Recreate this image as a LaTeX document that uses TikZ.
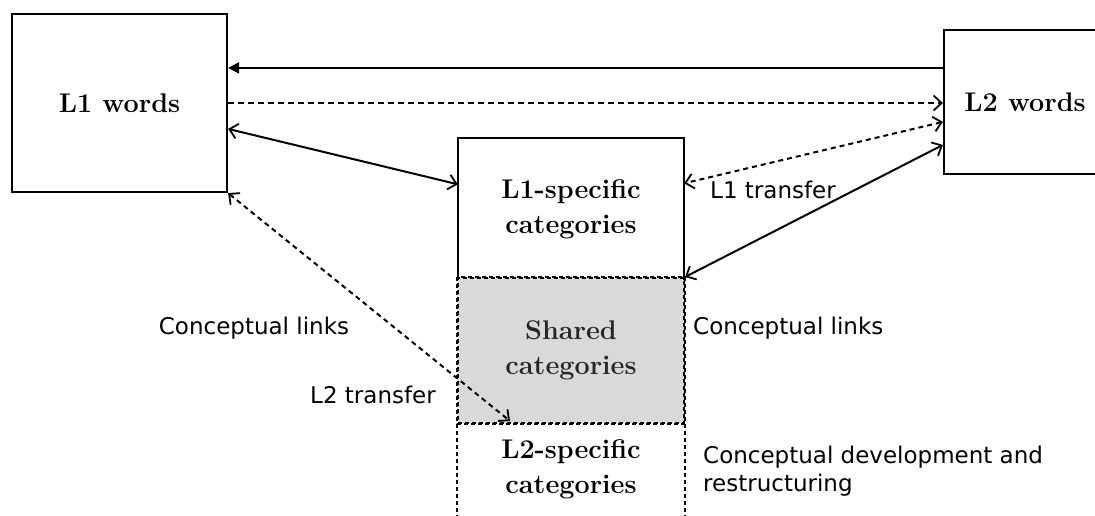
\documentclass[tikz,border=0pt]{standalone}
\usepackage{fontspec}
\newfontfamily\labfont{DejaVu Sans}
\usetikzlibrary{arrows.meta,calc}
\begin{document}
\begin{tikzpicture}[x=1pt,y=-1pt,
  >={Straight Barb[length=8pt,width=15pt,line width=1.8pt]},
  serif/.style={inner sep=0pt, align=center, font=\fontsize{27}{35}\selectfont\bfseries},
  wordbox/.style={serif, draw, line width=2.2pt},
  lab/.style={inner sep=0pt, font=\labfont\fontsize{23}{28}\selectfont},
  link/.style={line width=2pt},
  dashlink/.style={link, dash pattern=on 6pt off 4pt},
  dotlink/.style={link, dash pattern=on 5pt off 4pt},
  boxdash/.style={line width=2pt, dash pattern=on 4pt off 3pt}]
\useasboundingbox (0,0) rectangle (1095,515);
\clip (0,0) rectangle (1095,515);
\fill[white] (0,0) rectangle (1095,515);

% boxes
\node[wordbox, minimum width=215pt, minimum height=178pt] (l1w) at (119.5,103) {L1 words};
\node[wordbox, minimum width=162pt, minimum height=144pt] (l2w) at (1025,102) {L2 words};
\node[serif, minimum width=226pt, minimum height=141pt] (l1s) at (571,209) {L1-specific\\categories};
\node[serif, boxdash, draw, fill=gray!30, text=black!85, minimum width=226pt, minimum height=145pt] (sh) at (571,350.5) {Shared\\categories};
\node[serif, minimum width=226pt, minimum height=92pt] (l2s) at (571,469) {L2-specific\\categories};

\draw[line width=2.2pt] (l1s.south west) -- (l1s.north west) -- (l1s.north east) -- (l1s.south east);
\draw[boxdash] (sh.north west) rectangle (sh.south east);
\coordinate (l2sbl) at ($(sh.south west)+(0,95)$);
\coordinate (l2sbr) at ($(sh.south east)+(0,95)$);
\draw[boxdash] (sh.south west) -- (l2sbl);
\draw[boxdash] (sh.south east) -- (l2sbr);

% connectors
\draw[link, -{Triangle[length=11pt,width=11pt]}] ($(l2w.north west)+(0,39)$) -- ($(l1w.north east)+(0,55)$);
\draw[dashlink, ->] (l1w.east) -- (l1w.east -| l2w.west);
\draw[link, <->] ($(l1w.north east)+(0,116)$) -- ($(l1s.north west)+(0,46)$);
\draw[dotlink, <->] ($(l2w.north west)+(0,93)$) -- ($(l1s.north east)+(0,45)$);
\draw[link, <->] ($(l2w.north west)+(0,116)$) -- (sh.north east);
\coordinate (l2t) at ($(sh.south west)+(53,-3)$);
\draw[dotlink, <->] (l1w.south east) -- (l2t);

% labels
\node[lab] (t1) at (773,190) {L1 transfer};
\node[lab] (cl1) at (254,328) {Conceptual links};
\node[lab, anchor=west] (cl2) at (693,328) {Conceptual links};
\node[lab] (t2) at (373,395) {L2 transfer};
\node[lab, anchor=west, align=left] (cd) at (703,471) {Conceptual development and\\restructuring};
\end{tikzpicture}
\end{document}
